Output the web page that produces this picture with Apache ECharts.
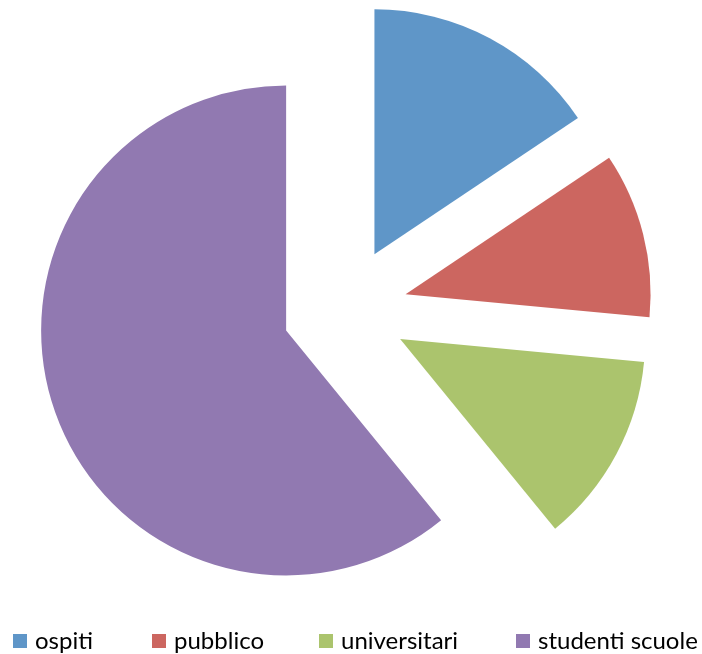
<!DOCTYPE html>
<html>
<head>
<meta charset="utf-8">
<style>
  html, body { margin: 0; padding: 0; background: #ffffff; }
  #chart { width: 702px; height: 654px; }
</style>
<script src="https://cdn.jsdelivr.net/npm/echarts@6/dist/echarts.min.js"></script>
</head>
<body>
<div id="chart"></div>
<script>
// Visitor groups and their shares
const categories = ['ospiti', 'pubblico', 'universitari', 'studenti scuole'];
const shares = [15.6, 10.9, 12.6, 60.9];
const colors = ['#5F96C8', '#CC6660', '#ABC46D', '#9179B1'];
// Horizontal placement of each legend entry
const legendLefts = [13, 152, 319, 516];

const chart = echarts.init(document.getElementById('chart'), null, { renderer: 'canvas' });

const pieData = categories.map((name, i) => ({
  name: name,
  value: shares[i],
  selected: true,
  itemStyle: { color: colors[i] }
}));

const legends = categories.map((name, i) => ({
  data: [name],
  left: legendLefts[i],
  top: 629,
  padding: 0,
  orient: 'horizontal',
  itemWidth: 14,
  itemHeight: 14,
  icon: 'rect',
  selectedMode: false,
  textStyle: {
    fontFamily: 'Lato, "Open Sans", sans-serif',
    fontSize: 24,
    lineHeight: 24,
    color: '#000000',
    padding: [0, 0, 0, 3]
  }
}));

chart.setOption({
  animation: false,
  backgroundColor: '#ffffff',
  legend: legends,
  series: [{
    type: 'pie',
    center: [345, 309.5],
    radius: [0, 245],
    startAngle: 90,
    clockwise: true,
    selectedMode: 'multiple',
    selectedOffset: 62.5,
    avoidLabelOverlap: false,
    label: { show: false },
    labelLine: { show: false },
    emphasis: { disabled: true },
    itemStyle: { borderWidth: 0 },
    data: pieData
  }]
});
</script>
</body>
</html>
